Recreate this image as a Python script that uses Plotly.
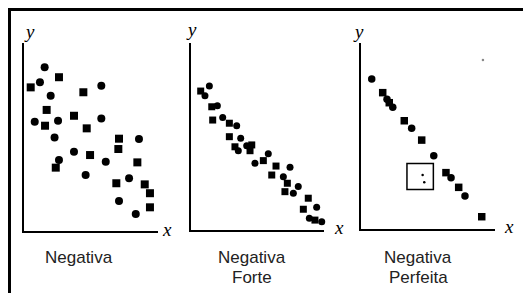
import plotly.graph_objects as go

W, H = 523, 293

# ---- data (arbitrary 0-10 units per panel) ----
neg_x = [1.54, 2.61, 1.19, 0.50, 5.77, 4.43, 1.99, 1.69, 0.80, 1.57, 2.54, 3.73, 5.77, 4.68, 2.28, 7.09, 8.58,
         7.04, 3.73, 4.93, 2.61, 2.37, 6.10, 8.46, 4.60, 6.89, 7.84, 9.01, 10.20, 9.40, 7.09, 9.40, 8.34, 10.07]
neg_y = [8.71, 8.18, 7.91, 7.64, 7.73, 7.38, 7.20, 6.44, 5.81, 5.60, 5.87, 6.13, 5.99, 5.46, 4.97, 4.91, 4.89,
         4.36, 4.22, 4.04, 3.78, 3.37, 3.69, 3.65, 2.98, 2.54, 2.80, 2.48, 2.54, 2.01, 1.60, 1.26, 0.90, 0.36]

forte_x = [1.40, 0.75, 1.07, 1.58, 2.00, 1.65, 2.40, 2.90, 3.45, 2.90, 3.75, 3.32, 4.20, 4.58, 3.57, 4.45, 5.82,
           5.45, 4.82, 6.40, 7.45, 6.08, 6.95, 7.25, 8.07, 7.07, 7.70, 8.82, 9.45, 8.45, 8.90, 9.32, 9.83, 10.20]
forte_y = [7.70, 7.43, 7.18, 6.59, 6.65, 5.88, 6.01, 5.71, 5.58, 4.99, 4.90, 4.45, 4.51, 4.55, 4.24, 4.24, 4.08,
           3.71, 3.57, 3.42, 3.35, 2.94, 2.85, 2.50, 2.32, 2.05, 1.96, 1.70, 1.21, 1.11, 0.63, 0.53, 0.44, 0.39]

perf_x = [0.80, 1.62, 1.94, 2.11, 2.37, 3.23, 3.78, 4.53, 5.43, 6.34, 6.72, 7.29, 7.76, 9.01]
perf_y = [8.06, 7.33, 6.97, 6.79, 6.54, 5.82, 5.41, 4.78, 3.94, 3.03, 2.76, 2.24, 1.77, 0.66]

box_x = [3.43, 5.40]
box_y = [2.13, 3.52]
box_dots_x = [4.60, 4.72]
box_dots_y = [2.90, 2.51]
grey_x = [9.23, 9.10]
grey_y = [10.28, 9.09]

captions = [["Negativa"], ["Negativa", "Forte"], ["Negativa", "Perfeita"]]


def px(x):
    return x / W


def py(y):
    return 1 - y / H


# panel geometry in pixels: (x_left, x_right, y_bottom, y_top)
panels = [(24, 158, 231, 43), (190.7, 324, 230, 43), (361, 495, 229, 43)]

fig = go.Figure()

datasets = [(neg_x, neg_y), (forte_x, forte_y), (perf_x, perf_y)]
sizes = [8, 7, 7.5]
for i, (xs, ys) in enumerate(datasets):
    n = i + 1
    xa = "x" if n == 1 else f"x{n}"
    ya = "y" if n == 1 else f"y{n}"
    symbols = ["circle" if k % 2 == 0 else "square" for k in range(len(xs))]
    fig.add_trace(go.Scatter(x=xs, y=ys, mode="markers", xaxis=xa, yaxis=ya, cliponaxis=False,
                             marker=dict(color="black", size=sizes[i], symbol=symbols, line=dict(width=0)),
                             showlegend=False, hoverinfo="skip"))

fig.add_trace(go.Scatter(x=box_dots_x, y=box_dots_y, mode="markers", xaxis="x3", yaxis="y3", cliponaxis=False,
                         marker=dict(color="black", size=2.5), showlegend=False, hoverinfo="skip"))
fig.add_trace(go.Scatter(x=grey_x, y=grey_y, mode="markers", xaxis="x3", yaxis="y3", cliponaxis=False,
                         marker=dict(color="#888888", size=2.5), showlegend=False, hoverinfo="skip"))

fig.add_shape(type="rect", xref="x3", yref="y3", x0=box_x[0], x1=box_x[1], y0=box_y[0], y1=box_y[1],
              line=dict(color="black", width=1.5))

axis_common = dict(showgrid=False, zeroline=False, showticklabels=False, ticks="",
                   showline=True, linecolor="black", linewidth=2, range=[0, 10], fixedrange=True)

layout = dict(width=W, height=H, margin=dict(l=0, r=0, t=0, b=0),
              paper_bgcolor="white", plot_bgcolor="white")
for i, (xl, xr, yb, yt) in enumerate(panels):
    n = i + 1
    xk = "xaxis" if n == 1 else f"xaxis{n}"
    yk = "yaxis" if n == 1 else f"yaxis{n}"
    layout[xk] = dict(domain=[px(xl), px(xr)], anchor="y" if n == 1 else f"y{n}", **axis_common)
    layout[yk] = dict(domain=[py(yb), py(yt)], anchor="x" if n == 1 else f"x{n}", **axis_common)
fig.update_layout(**layout)

# outer frame (top and left edges visible)
fig.add_shape(type="line", xref="paper", yref="paper", x0=px(8), x1=1, y0=py(9.5), y1=py(9.5),
              line=dict(color="black", width=3))
fig.add_shape(type="line", xref="paper", yref="paper", x0=px(9.5), x1=px(9.5), y0=py(8), y1=0,
              line=dict(color="black", width=3))

serif = dict(family="Liberation Serif, Times New Roman, serif", size=19, color="black")
ylab_pos = [(29, 31), (191.7, 30), (358.5, 31)]
xlab_pos = [(167, 229), (339, 227), (509, 226)]
for (x, y) in ylab_pos:
    fig.add_annotation(x=px(x), y=py(y), xref="paper", yref="paper", text="<i>y</i>", showarrow=False,
                       font=serif, xanchor="center", yanchor="middle")
for (x, y) in xlab_pos:
    fig.add_annotation(x=px(x), y=py(y), xref="paper", yref="paper", text="<i>x</i>", showarrow=False,
                       font=serif, xanchor="center", yanchor="middle")

sans = dict(family="Liberation Sans, Arial, sans-serif", size=17, color="#222222")
cap_x = [79, 251.7, 418]
line_y = [257.5, 277.5]
for i, lines in enumerate(captions):
    for j, t in enumerate(lines):
        fig.add_annotation(x=px(cap_x[i]), y=py(line_y[j]), xref="paper", yref="paper", text=t,
                           showarrow=False, font=sans, xanchor="center", yanchor="middle", borderpad=0)

fig.write_html("out.html", config={"displayModeBar": False, "staticPlot": True},
               post_script="document.body.style.margin='0';document.body.style.overflow='hidden';")
